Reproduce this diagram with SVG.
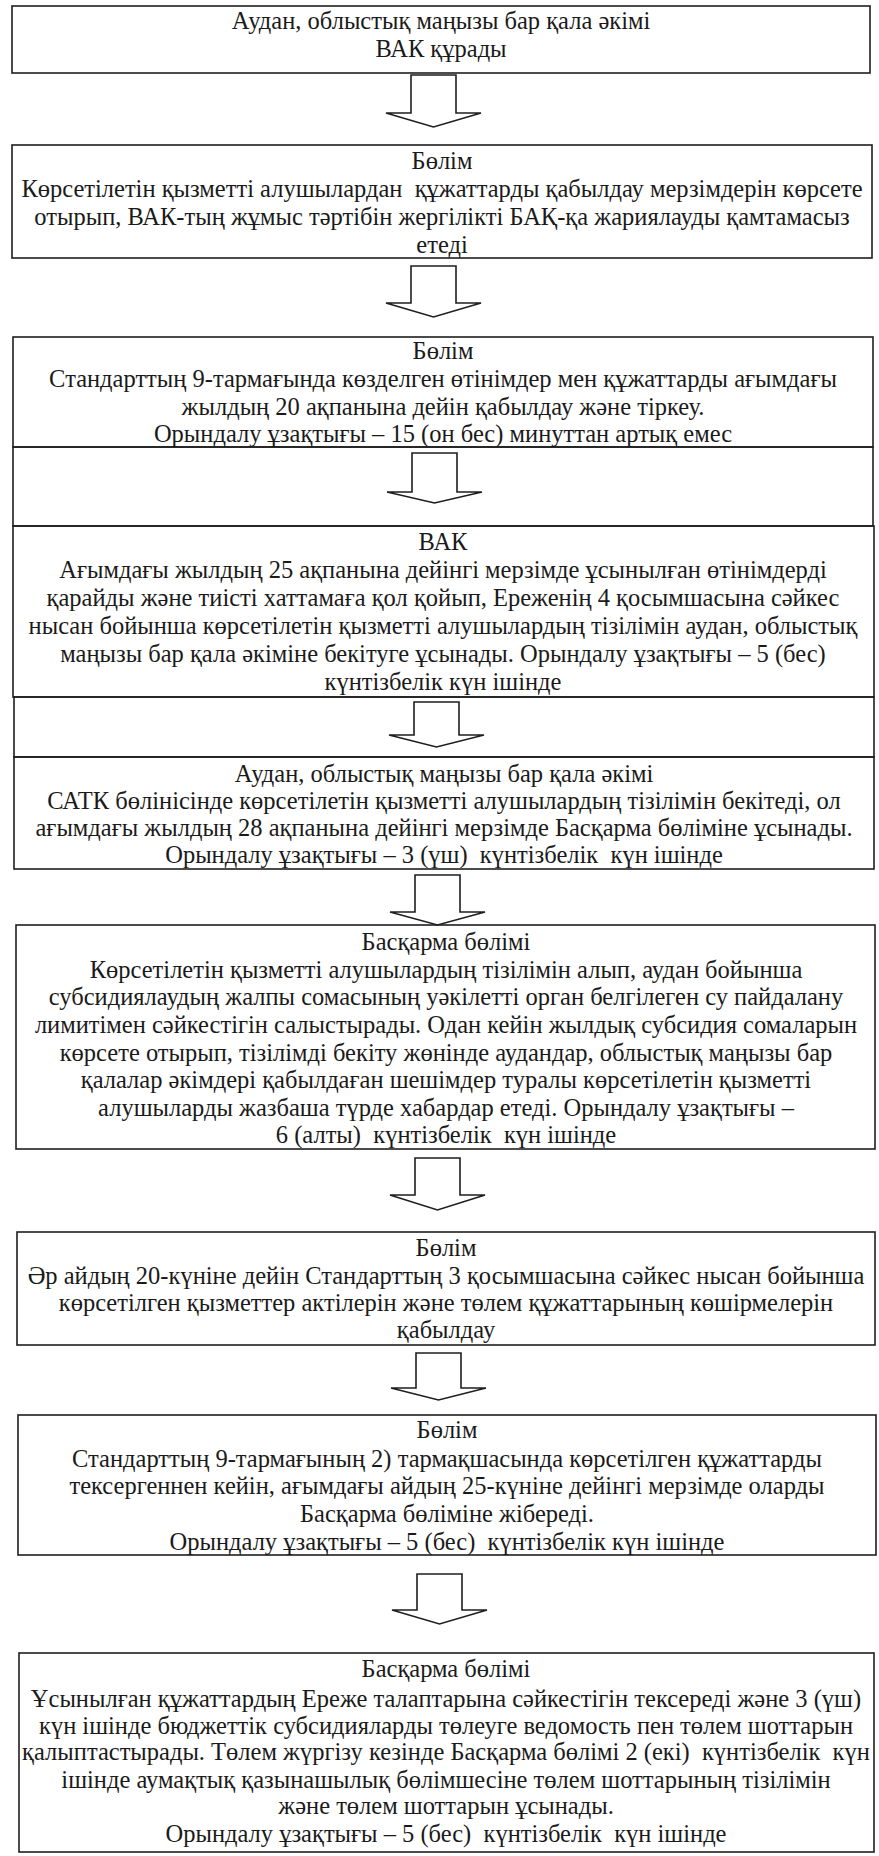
<svg xmlns="http://www.w3.org/2000/svg" width="879" height="1856" viewBox="0 0 879 1856">
<style>
.box{fill:none;stroke:#1e1e1e;stroke-width:1.6}
.arr{fill:#fff;stroke:#1e1e1e;stroke-width:1.6;stroke-linejoin:miter}
text{font-family:"Liberation Serif","Times New Roman",serif;font-size:24.5px;fill:#1a1a1a;text-anchor:middle;white-space:pre}
</style>
<rect width="879" height="1856" fill="#fff"/>
<g id="frame">
<rect class="box" x="13" y="447" width="860" height="79"/>
<rect class="box" x="14" y="697" width="860" height="60"/>
</g>
<g id="connectors">
<path class="arr" d="M411,75 H456 V113 H481 L433.5,127 L386,113 H411 Z"/>
<path class="arr" d="M411,266 H456 V303 H481 L433.5,317 L386,303 H411 Z"/>
<path class="arr" d="M412,453 H457 V492 H482 L434.5,503 L387,492 H412 Z"/>
<path class="arr" d="M414,702 H459 V735 H484 L436.5,747 L389,735 H414 Z"/>
<path class="arr" d="M415,875 H460 V912 H485 L437.5,925 L390,912 H415 Z"/>
<path class="arr" d="M415,1158 H460 V1195 H485 L437.5,1210 L390,1195 H415 Z"/>
<path class="arr" d="M416,1353 H461 V1388 H486 L438.5,1400 L391,1388 H416 Z"/>
<path class="arr" d="M417,1574 H462 V1610 H487 L439.5,1624 L392,1610 H417 Z"/>
</g>
<g id="n1">
<rect class="box" x="12" y="6" width="858" height="67"/>
<text x="441" y="29">Аудан, облыстық маңызы бар қала әкімі</text>
<text x="441" y="57">ВАК құрады</text>
</g>
<g id="n2">
<rect class="box" x="12" y="145" width="860" height="113"/>
<text x="442" y="169">Бөлім</text>
<text x="442" y="197">Көрсетілетін қызметті алушылардан  құжаттарды қабылдау мерзімдерін көрсете</text>
<text x="442" y="225">отырып, ВАК-тың жұмыс тәртібін жергілікті БАҚ-қа жариялауды қамтамасыз</text>
<text x="442" y="253">етеді</text>
</g>
<g id="n3">
<rect class="box" x="13" y="337" width="860" height="110"/>
<text x="443" y="359">Бөлім</text>
<text x="443" y="387">Стандарттың 9-тармағында көзделген өтінімдер мен құжаттарды ағымдағы</text>
<text x="443" y="415">жылдың 20 ақпанына дейін қабылдау және тіркеу.</text>
<text x="443" y="442">Орындалу ұзақтығы – 15 (он бес) минуттан артық емес</text>
</g>
<g id="n4">
<rect class="box" x="13" y="526" width="861" height="171"/>
<text x="443" y="550">ВАК</text>
<text x="443" y="578">Ағымдағы жылдың 25 ақпанына дейінгі мерзімде ұсынылған өтінімдерді</text>
<text x="443" y="606">қарайды және тиісті хаттамаға қол қойып, Ереженің 4 қосымшасына сәйкес</text>
<text x="443" y="634">нысан бойынша көрсетілетін қызметті алушылардың тізілімін аудан, облыстық</text>
<text x="443" y="662">маңызы бар қала әкіміне бекітуге ұсынады. Орындалу ұзақтығы – 5 (бес)</text>
<text x="443" y="690">күнтізбелік күн ішінде</text>
</g>
<g id="n5">
<rect class="box" x="14" y="757" width="860" height="112"/>
<text x="444" y="782">Аудан, облыстық маңызы бар қала әкімі</text>
<text x="444" y="809">САТК бөлінісінде көрсетілетін қызметті алушылардың тізілімін бекітеді, ол</text>
<text x="444" y="836">ағымдағы жылдың 28 ақпанына дейінгі мерзімде Басқарма бөліміне ұсынады.</text>
<text x="444" y="863">Орындалу ұзақтығы – 3 (үш)  күнтізбелік  күн ішінде</text>
</g>
<g id="n6">
<rect class="box" x="16" y="925" width="859" height="224"/>
<text x="446" y="950">Басқарма бөлімі</text>
<text x="446" y="978">Көрсетілетін қызметті алушылардың тізілімін алып, аудан бойынша</text>
<text x="446" y="1005">субсидиялаудың жалпы сомасының уәкілетті орган белгілеген су пайдалану</text>
<text x="446" y="1033">лимитімен сәйкестігін салыстырады. Одан кейін жылдық субсидия сомаларын</text>
<text x="446" y="1061">көрсете отырып, тізілімді бекіту жөнінде аудандар, облыстық маңызы бар</text>
<text x="446" y="1088">қалалар әкімдері қабылдаған шешімдер туралы көрсетілетін қызметті</text>
<text x="446" y="1116">алушыларды жазбаша түрде хабардар етеді. Орындалу ұзақтығы –</text>
<text x="446" y="1143">6 (алты)  күнтізбелік  күн ішінде</text>
</g>
<g id="n7">
<rect class="box" x="17" y="1232" width="858" height="113"/>
<text x="446" y="1256">Бөлім</text>
<text x="446" y="1284">Әр айдың 20-күніне дейін Стандарттың 3 қосымшасына сәйкес нысан бойынша</text>
<text x="446" y="1311">көрсетілген қызметтер актілерін және төлем құжаттарының көшірмелерін</text>
<text x="446" y="1338">қабылдау</text>
</g>
<g id="n8">
<rect class="box" x="18" y="1415" width="858" height="140"/>
<text x="447" y="1438">Бөлім</text>
<text x="447" y="1467">Стандарттың 9-тармағының 2) тармақшасында көрсетілген құжаттарды</text>
<text x="447" y="1494">тексергеннен кейін, ағымдағы айдың 25-күніне дейінгі мерзімде оларды</text>
<text x="447" y="1522">Басқарма бөліміне жібереді.</text>
<text x="447" y="1550">Орындалу ұзақтығы – 5 (бес)  күнтізбелік күн ішінде</text>
</g>
<g id="n9">
<rect class="box" x="19" y="1653" width="855" height="199"/>
<text x="446" y="1677">Басқарма бөлімі</text>
<text x="446" y="1707">Ұсынылған құжаттардың Ереже талаптарына сәйкестігін тексереді және 3 (үш)</text>
<text x="446" y="1734">күн ішінде бюджеттік субсидияларды төлеуге ведомость пен төлем шоттарын</text>
<text x="446" y="1760">қалыптастырады. Төлем жүргізу кезінде Басқарма бөлімі 2 (екі)  күнтізбелік  күн</text>
<text x="446" y="1788">ішінде аумақтық қазынашылық бөлімшесіне төлем шоттарының тізілімін</text>
<text x="446" y="1814">және төлем шоттарын ұсынады.</text>
<text x="446" y="1842">Орындалу ұзақтығы – 5 (бес)  күнтізбелік  күн ішінде</text>
</g>
</svg>
